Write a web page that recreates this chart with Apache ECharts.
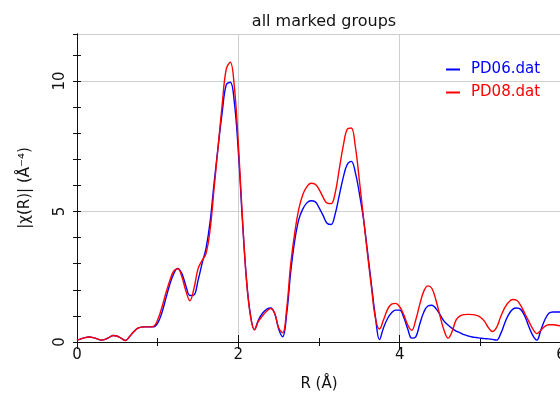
<!DOCTYPE html>
<html>
<head>
<meta charset="utf-8">
<script src="https://cdn.jsdelivr.net/npm/echarts@6/dist/echarts.min.js"></script>
<style>
  html, body { margin: 0; padding: 0; background: #fff; }
  #chart { width: 560px; height: 394px; }
</style>
</head>
<body>
<div id="chart"></div>
<script>
// R grid in Å, step 0.05 from 0 to 6
const rValues = Array.from({ length: 121 }, (_, i) => +(i * 0.05).toFixed(2));

// |chi(R)|, one value per R
const pd06 = [
  0.07, 0.12, 0.17, 0.19, 0.17, 0.12, 0.07, 0.10, 0.18, 0.25,
  0.22, 0.14, 0.06, 0.20, 0.38, 0.52, 0.57, 0.58, 0.58, 0.58,
  0.72, 1.10, 1.65, 2.20, 2.62, 2.82, 2.62, 2.15, 1.78, 1.80,
  2.35, 3.00, 3.60, 4.60, 6.10, 7.50, 8.80, 9.85, 9.95, 9.20,
  7.30, 4.70, 2.45, 1.05, 0.47, 0.85, 1.10, 1.25, 1.30, 1.10,
  0.50, 0.20, 1.10, 2.70, 3.90, 4.70, 5.10, 5.33, 5.41, 5.38,
  5.15, 4.85, 4.55, 4.50, 4.90, 5.60, 6.30, 6.80, 6.92, 6.50,
  5.70, 4.75, 3.50, 2.20, 0.95, 0.09, 0.55, 0.90, 1.12, 1.22,
  1.22, 0.95, 0.50, 0.15, 0.20, 0.70, 1.15, 1.38, 1.41, 1.28,
  1.05, 0.80, 0.65, 0.52, 0.42, 0.35, 0.28, 0.23, 0.19, 0.17,
  0.15, 0.13, 0.12, 0.10, 0.07, 0.30, 0.70, 1.05, 1.25, 1.30,
  1.25, 1.00, 0.60, 0.25, 0.07, 0.45, 0.85, 1.10, 1.15, 1.15,
  1.15
];

const pd08 = [
  0.07, 0.12, 0.17, 0.19, 0.17, 0.12, 0.07, 0.10, 0.18, 0.25,
  0.22, 0.14, 0.06, 0.20, 0.38, 0.52, 0.57, 0.58, 0.58, 0.60,
  0.85, 1.30, 1.85, 2.35, 2.72, 2.80, 2.50, 1.95, 1.58, 2.05,
  2.80, 3.12, 3.40, 4.30, 5.90, 7.50, 9.10, 10.45, 10.72, 9.80,
  7.60, 4.80, 2.40, 1.00, 0.47, 0.80, 1.00, 1.18, 1.28, 1.10,
  0.55, 0.35, 1.30, 3.00, 4.20, 5.10, 5.65, 5.95, 6.08, 6.05,
  5.85, 5.55, 5.32, 5.30, 5.70, 6.60, 7.50, 8.15, 8.20, 7.50,
  6.20, 4.80, 3.40, 2.10, 0.90, 0.50, 0.85, 1.25, 1.45, 1.48,
  1.35, 1.05, 0.65, 0.45, 0.85, 1.45, 1.95, 2.15, 2.05, 1.60,
  1.00, 0.45, 0.15, 0.40, 0.85, 1.00, 1.05, 1.06, 1.05, 1.02,
  0.95, 0.80, 0.55, 0.40, 0.55, 0.95, 1.30, 1.52, 1.63, 1.60,
  1.40, 1.10, 0.80, 0.50, 0.32, 0.45, 0.60, 0.66, 0.66, 0.64,
  0.62
];

const xTickLabels = [0, 2, 4, 6];
const yTickLabels = [0, 5, 10];

const font = "DejaVu Sans";
const ink = "#111";

const chart = echarts.init(document.getElementById("chart"), null, { renderer: "canvas" });

const frameAxis = { show: true, lineStyle: { color: ink, width: 1 } };

chart.setOption({
  animation: false,
  backgroundColor: "#fff",
  title: {
    text: "all marked groups",
    left: 319,
    textAlign: "center",
    top: 9,
    textStyle: { fontFamily: font, fontSize: 16, fontWeight: "normal", color: ink },
  },
  legend: {
    orient: "vertical",
    left: 441,
    top: 57,
    itemGap: 8,
    itemWidth: 14,
    itemHeight: 2,
    icon: "rect",
    data: [
      { name: "PD06.dat", textStyle: { color: "#0000ff" } },
      { name: "PD08.dat", textStyle: { color: "#ff0000" } },
    ],
    textStyle: { fontFamily: font, fontSize: 15, padding: [0, 0, 0, 6] },
  },
  grid: { left: 77, right: -1, top: 34, bottom: 52, outerBoundsMode: "none" },
  xAxis: [
    {
      type: "value",
      min: 0,
      max: 6,
      interval: 2,
      position: "bottom",
      name: "R (Å)",
      nameLocation: "middle",
      nameGap: 35,
      nameTextStyle: { fontFamily: font, fontSize: 15, color: ink },
      axisLine: frameAxis,
      axisTick: { inside: true, length: 7, lineStyle: { color: ink } },
      minorTick: { show: true, splitNumber: 2, length: 4, lineStyle: { color: ink } },
      axisLabel: {
        margin: 6,
        fontFamily: font,
        fontSize: 15,
        color: ink,
        formatter: (v) => (xTickLabels.includes(v) ? String(v) : ""),
      },
      splitLine: { show: true, lineStyle: { color: "#cfcfcf", width: 1 } },
    },
    {
      type: "value",
      min: 0,
      max: 6,
      interval: 2,
      position: "top",
      axisLine: frameAxis,
      axisTick: { inside: true, length: 7, lineStyle: { color: ink } },
      minorTick: { show: true, splitNumber: 2, length: 4, lineStyle: { color: ink } },
      axisLabel: { show: false },
      splitLine: { show: false },
    },
  ],
  yAxis: [
    {
      type: "value",
      min: 0,
      max: 11.8,
      interval: 1,
      position: "left",
      name: "|χ(R)| (Å⁻⁴)",
      nameLocation: "middle",
      nameGap: 44,
      nameTextStyle: { fontFamily: font, fontSize: 15, color: ink },
      axisLine: frameAxis,
      axisTick: { inside: true, length: 4, lineStyle: { color: ink } },
      axisLabel: {
        rotate: 90,
        margin: 9,
        fontFamily: font,
        fontSize: 15,
        color: ink,
        showMaxLabel: false,
        formatter: (v) => (yTickLabels.includes(v) ? String(v) : ""),
      },
      splitLine: { show: false },
    },
    {
      type: "value",
      min: 0,
      max: 11.8,
      interval: 1,
      position: "right",
      axisLine: frameAxis,
      axisTick: { inside: true, length: 4, lineStyle: { color: ink } },
      axisLabel: { show: false },
      splitLine: { show: false },
    },
    {
      type: "value",
      min: 0,
      max: 11.8,
      interval: 5,
      position: "left",
      axisLine: { show: false },
      axisTick: { show: false },
      axisLabel: { show: false },
      splitLine: { show: true, lineStyle: { color: "#cfcfcf", width: 1 } },
    },
  ],
  series: [
    {
      name: "PD06.dat",
      type: "line",
      xAxisIndex: 0,
      yAxisIndex: 0,
      smooth: 0.4,
      showSymbol: false,
      color: "#0000ff",
      lineStyle: { width: 1.4, color: "#0000ff" },
      data: rValues.map((r, i) => [r, pd06[i]]),
    },
    {
      name: "PD08.dat",
      type: "line",
      xAxisIndex: 0,
      yAxisIndex: 0,
      smooth: 0.4,
      showSymbol: false,
      color: "#ff0000",
      lineStyle: { width: 1.4, color: "#ff0000" },
      data: rValues.map((r, i) => [r, pd08[i]]),
    },
  ],
});
</script>
</body>
</html>
